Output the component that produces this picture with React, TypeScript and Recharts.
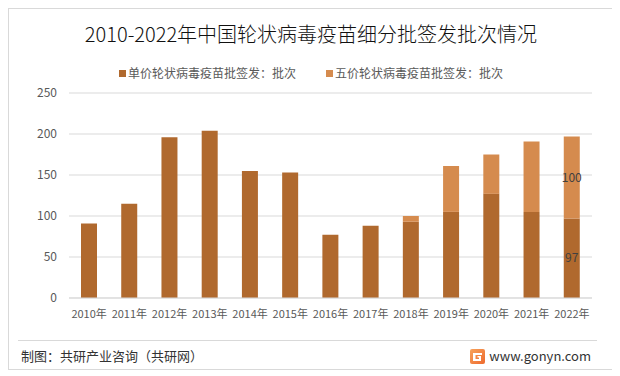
import React from "react";
import { BarChart, Bar, XAxis, YAxis, CartesianGrid, LabelList } from "recharts";

const years = ["2010年", "2011年", "2012年", "2013年", "2014年", "2015年", "2016年", "2017年", "2018年", "2019年", "2020年", "2021年", "2022年"];
const singleValent = [91, 115, 196, 204, 155, 153, 77, 88, 93, 105, 127, 105, 97];
const pentaValent = [null, null, null, null, null, null, null, null, 7, 56, 48, 86, 100];
const labelledYears = ["2022年"];
const yTicks = [0, 50, 100, 150, 200, 250];

const seriesNames = ["单价轮状病毒疫苗批签发：批次", "五价轮状病毒疫苗批签发：批次"];
const seriesColors = ["#B0692E", "#D58B4E"];

const chartData = years.map((year, i) => ({
  year,
  single: singleValent[i],
  penta: pentaValent[i],
  singleLabel: labelledYears.includes(year) ? singleValent[i] : undefined,
  pentaLabel: labelledYears.includes(year) ? pentaValent[i] : undefined,
}));

const FONT = "'Noto Sans CJK SC', 'Noto Sans', sans-serif";

export default function App() {
  return (
    <div
      style={{
        position: "relative",
        width: 606,
        height: 362,
        border: "1px solid #d9d9d9",
        boxSizing: "border-box",
        fontFamily: FONT,
        background: "#fff",
      }}
    >
      <div style={{ position: "absolute", top: 11, left: 0, width: 604, textAlign: "center", fontSize: 20, fontWeight: 300, color: "#111", lineHeight: "28px" }}>
        2010-2022年中国轮状病毒疫苗细分批签发批次情况
      </div>

      {/* legend */}
      <div style={{ position: "absolute", top: 55, left: 0, width: 604, display: "flex", justifyContent: "center", fontSize: 12, color: "#595959", lineHeight: "18px" }}>
        {seriesNames.map((name, i) => (
          <div key={name} style={{ display: "flex", alignItems: "center", marginLeft: i ? 30 : 0 }}>
            <span style={{ width: 7, height: 7, background: seriesColors[i], marginRight: 2, display: "inline-block" }} />
            {name}
          </div>
        ))}
      </div>

      <div style={{ position: "absolute", top: 0, left: 0 }}>
        <BarChart width={604} height={330} data={chartData} margin={{ top: 84, right: 21, bottom: 11, left: 20 }} barSize={16}>
          <CartesianGrid vertical={false} stroke="#d9d9d9" />
          <XAxis
            dataKey="year"
            axisLine={{ stroke: "#d9d9d9" }}
            tickLine={false}
            tickMargin={6}
            interval={0}
            tick={{ fontSize: 11, fill: "#595959", fontFamily: FONT }}
          />
          <YAxis
            domain={[0, 250]}
            ticks={yTicks}
            width={40}
            axisLine={false}
            tickLine={false}
            tickMargin={6}
            tick={{ fontSize: 12, fill: "#595959", fontFamily: FONT }}
          />
          <Bar dataKey="single" name={seriesNames[0]} stackId="a" fill={seriesColors[0]} isAnimationActive={false}>
            <LabelList dataKey="singleLabel" position="center" fill="#404040" fontSize={12} fontFamily={FONT} />
          </Bar>
          <Bar dataKey="penta" name={seriesNames[1]} stackId="a" fill={seriesColors[1]} isAnimationActive={false}>
            <LabelList dataKey="pentaLabel" position="center" fill="#404040" fontSize={12} fontFamily={FONT} />
          </Bar>
        </BarChart>
      </div>

      {/* footer */}
      <div style={{ position: "absolute", top: 331, left: 9, width: 579, borderTop: "1px solid #d9d9d9" }} />
      <div style={{ position: "absolute", top: 338, left: 12, fontSize: 13, color: "#333", lineHeight: "18px" }}>
        制图：共研产业咨询（共研网）
      </div>
      <div style={{ position: "absolute", top: 338, right: 22, display: "flex", alignItems: "center", fontSize: 13, color: "#333", lineHeight: "18px" }}>
        <svg width={15} height={15} style={{ marginRight: 4 }}>
          <defs>
            <linearGradient id="lg" x1="0" y1="0" x2="1" y2="1">
              <stop offset="0" stopColor="#F7A35C" />
              <stop offset="1" stopColor="#EE6A2E" />
            </linearGradient>
          </defs>
          <rect width={15} height={15} rx={2} fill="url(#lg)" />
          <path d="M3 4 H12 V6 H5.5 V10 H9 V8.5 H7.5 V7 H11 V12 H3 Z" fill="#fff" />
        </svg>
        www.gonyn.com
      </div>
    </div>
  );
}
